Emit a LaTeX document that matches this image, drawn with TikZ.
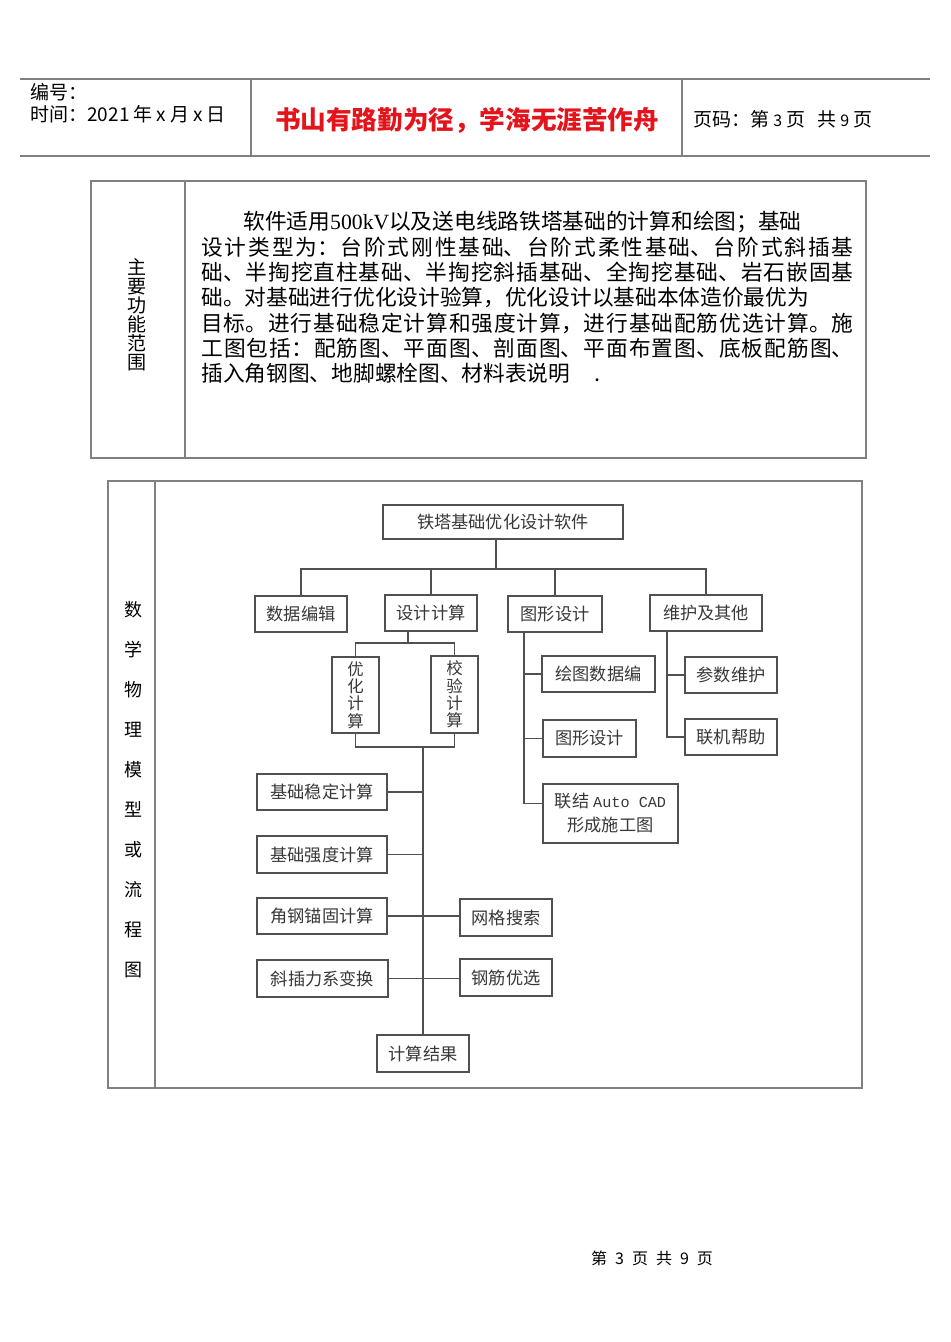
\documentclass[tikz,border=0pt]{standalone}
\usepackage{fontspec}
\setmainfont{Noto Sans CJK SC}
\setmonofont{Liberation Mono}
\newfontfamily\latinrm{Liberation Serif}
\usetikzlibrary{positioning,calc}
\definecolor{frame}{HTML}{808080}
\definecolor{boxln}{HTML}{505050}
\definecolor{boxtx}{HTML}{383838}
\definecolor{motto}{HTML}{E3141B}
\XeTeXlinebreaklocale "zh"
\XeTeXlinebreakskip=0pt plus 1.5pt

\begin{document}
\begin{tikzpicture}[x=0.5pt,y=-0.5pt,
  box/.style={draw=boxln,line width=0.9pt,fill=white,inner sep=0pt,
              font=\fontsize{8.6}{12}\selectfont,text=boxtx,align=center},
  vbox/.style={box,font=\fontsize{8.2}{8.6}\selectfont},
  link/.style={draw=boxln,line width=0.8pt},
  rule/.style={draw=frame,line width=0.7pt},
  head/.style={anchor=west,inner sep=0pt,font=\fontsize{9.5}{11}\selectfont}]

\useasboundingbox[fill=white] (0,0) rectangle (950,1342);

% page head
\draw[rule,line width=1.2pt] (20,79) -- (930,79);
\draw[rule,line width=1.2pt] (20,156) -- (930,156);
\draw[rule] (251,79) -- (251,156);
\draw[rule] (682,79) -- (682,156);
\node[head] (num) at (30,92) {编号：};
\node[head] (date) at (30,114) {时间：2021\hspace{2pt}年\hspace{2pt}x\hspace{2pt}月\hspace{2pt}x\hspace{2pt}日};
\node[inner sep=0pt,text=motto,font=\fontsize{12.8}{14}\selectfont\bfseries] (motto) at (467,120)
  {书山有路勤为径，学海无涯苦作舟};
\node[head] (pageno) at (693,119)
  {页码：第\hspace{2pt}{\fontsize{8}{10}\selectfont 3}\hspace{2pt}页\hspace{6pt}共\hspace{2pt}{\fontsize{8}{10}\selectfont 9}\hspace{2pt}页};

% table: main functions
\draw[rule] (91,181) rectangle (866,458);
\draw[rule] (185,181) -- (185,458);
\node[inner sep=0pt,align=center,font=\fontsize{9.5}{9.5}\selectfont] (scopelbl) at (137,315)
  {主\\要\\功\\能\\范\\围};
\node[anchor=base west,inner sep=0pt,text width=326pt,align=justify,
      font=\fontsize{10.85}{12.65}\selectfont] (intro) at (201,230)
  {\hspace*{21pt}软件适用{\latinrm 500kV}以及送电线路铁塔基础的计算和绘图；基础\newline
   设计类型为：台阶式刚性基础、台阶式柔性基础、台阶式斜插基\linebreak
   础、半掏挖直柱基础、半掏挖斜插基础、全掏挖基础、岩石嵌固基\linebreak
   础。对基础进行优化设计验算，优化设计以基础本体造价最优为\newline
   目标。进行基础稳定计算和强度计算，进行基础配筋优选计算。施\linebreak
   工图包括：配筋图、平面图、剖面图、平面布置图、底板配筋图、\linebreak
   插入角钢图、地脚螺栓图、材料表说明\hspace{12pt}.\newline};

% table: flow chart
\draw[rule] (108,481) rectangle (862,1088);
\draw[rule] (155,481) -- (155,1088);
\node[inner sep=0pt,align=center,font=\fontsize{9}{20}\selectfont] (modellbl) at (133,790)
  {数\\学\\物\\理\\模\\型\\或\\流\\程\\图};

\node[box,minimum width=120pt,minimum height=17pt] (soft) at (503,522) {铁塔基础优化设计软件};
\node[box,minimum width=46pt,minimum height=18pt] (shuju) at (301,614) {数据编辑};
\node[box,minimum width=46pt,minimum height=18pt] (sheji) at (431,613) {设计计算};
\node[box,minimum width=47pt,minimum height=18pt] (tuxing) at (555,614) {图形设计};
\node[box,minimum width=56pt,minimum height=18pt] (weihu) at (706,613) {维护及其他};

\node[vbox,minimum width=23.5pt,minimum height=38pt] (youhua) at (355.5,695) {优\\化\\计\\算};
\node[vbox,minimum width=23.5pt,minimum height=38.5pt] (jiaoyan) at (454.5,694.5) {校\\验\\计\\算};

\node[box,minimum width=56.5pt,minimum height=18pt] (huitu) at (598.5,674) {绘图数据编};
\node[box,minimum width=46.5pt,minimum height=18.5pt] (txsj) at (589.5,738.5) {图形设计};
\node[box,minimum width=67.5pt,minimum height=29.5pt] (cad) at (610.5,813.5)
  {联结 {\fontsize{7.6}{12}\ttfamily Auto CAD}\\形成施工图};
\node[box,minimum width=46pt,minimum height=18pt] (canshu) at (731,675) {参数维护};
\node[box,minimum width=46pt,minimum height=18pt] (lianji) at (731,737) {联机帮助};

\node[box,minimum width=65pt,minimum height=18pt] (wending) at (322,792) {基础稳定计算};
\node[box,minimum width=65pt,minimum height=18.5pt] (qiangdu) at (322,854.5) {基础强度计算};
\node[box,minimum width=65pt,minimum height=18pt] (maogu) at (322,916) {角钢锚固计算};
\node[box,minimum width=65.5pt,minimum height=18.5pt] (xiecha) at (322.5,978.5) {斜插力系变换};
\node[box,minimum width=46pt,minimum height=18.5pt] (wangge) at (506,917.5) {网格搜索};
\node[box,minimum width=46pt,minimum height=18.5pt] (gangjin) at (506,977.5) {钢筋优选};
\node[box,minimum width=46pt,minimum height=18.5pt] (jieguo) at (423,1053.5) {计算结果};

\coordinate (hub) at (496,569);
\draw[link] (hub |- soft.south) -- (hub);
\draw[link] (shuju.north) -- (shuju.north |- hub) -- (weihu.north |- hub) -- (weihu.north);
\draw[link] (sheji.north) -- (sheji.north |- hub);
\draw[link] (tuxing.north) -- (tuxing.north |- hub);

\coordinate (split) at (408,643);
\draw[link] (split |- sheji.south) -- (split);
\draw[link] (youhua.north) |- (split) -| (jiaoyan.north);

\coordinate (merge) at (423,747);
\draw[link] (youhua.south) |- (merge) -| (jiaoyan.south);
\draw[link] (merge) -- (jieguo.north);
\draw[link] (wending.east) -- (wending.east -| merge);
\draw[link] (qiangdu.east) -- (qiangdu.east -| merge);
\draw[link] (maogu.east) -- (maogu.east -| wangge.west);
\draw[link] (xiecha.east) -- (xiecha.east -| gangjin.west);

\coordinate (txtrunk) at (524,632);
\draw[link] (txtrunk) |- ([yshift=5pt]cad.west);
\draw[link] (huitu.west) -- (huitu.west -| txtrunk);
\draw[link] (txsj.west) -- (txsj.west -| txtrunk);

\coordinate (whtrunk) at (667,631);
\draw[link] (whtrunk) |- (lianji.west);
\draw[link] (canshu.west) -- (canshu.west -| whtrunk);

% page foot
\node[inner sep=0pt,font=\fontsize{8}{10}\selectfont] (foot) at (652,1258)
  {第\enspace 3\enspace 页\enspace 共\enspace 9\enspace 页};
\end{tikzpicture}
\end{document}
